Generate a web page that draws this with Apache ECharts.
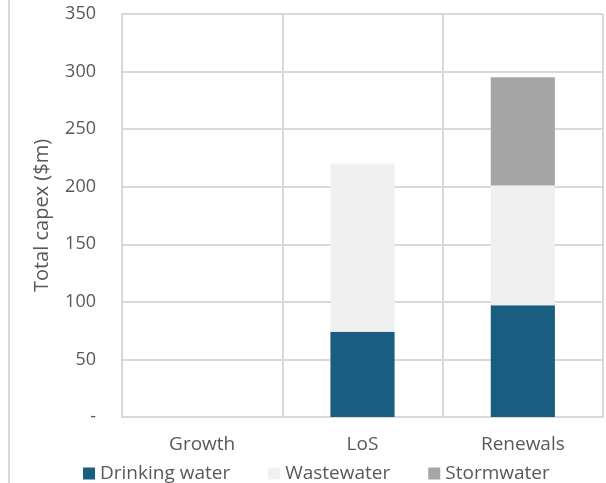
<!DOCTYPE html>
<html>
<head>
<meta charset="utf-8">
<script src="https://cdn.jsdelivr.net/npm/echarts@6/dist/echarts.min.js"></script>
<style>
  html, body { margin: 0; padding: 0; background: #fff; }
  #main { width: 606px; height: 483px; }
</style>
</head>
<body>
<div id="main"></div>
<script>
// categories + stacked values ($m)
var categories = ['Growth', 'LoS', 'Renewals'];
var drinkingWater = [0, 74, 97];
var wastewater = [0, 146, 104];
var stormwater = [0, 0, 94];
var seriesNames = ['Drinking water', 'Wastewater', 'Stormwater'];

var font = 'Open Sans';
var myChart = echarts.init(document.getElementById('main'));

var option = {
  animation: false,
  textStyle: { fontFamily: font },
  grid: { left: 122, right: 3, top: 14, bottom: 66 },
  legend: {
    top: 459,
    left: 78,
    itemWidth: 12,
    itemHeight: 12,
    itemGap: 38,
    icon: 'rect',
    textStyle: { color: '#595959', fontSize: 19, fontFamily: font },
    data: seriesNames
  },
  xAxis: {
    type: 'category',
    data: categories,
    axisLine: { lineStyle: { color: '#d9d9d9', width: 2 } },
    axisTick: { show: false },
    axisLabel: { color: '#595959', fontSize: 19, margin: 18 },
    splitLine: { show: true, interval: 0, lineStyle: { color: '#d9d9d9', width: 2 } }
  },
  yAxis: {
    type: 'value',
    min: 0,
    max: 350,
    interval: 50,
    name: 'Total capex ($m)',
    nameLocation: 'middle',
    nameGap: 70,
    nameTextStyle: { color: '#595959', fontSize: 20 },
    axisLine: { show: true, lineStyle: { color: '#d9d9d9', width: 2 } },
    axisTick: { show: false },
    axisLabel: {
      color: '#595959',
      fontSize: 18,
      margin: 26,
      formatter: function (v) { return v === 0 ? '-' : v; }
    },
    splitLine: { lineStyle: { color: '#d9d9d9', width: 2 } }
  },
  series: [
    { name: seriesNames[0], type: 'bar', stack: 'capex', data: drinkingWater, barWidth: '40%', itemStyle: { color: '#195e80' } },
    { name: seriesNames[1], type: 'bar', stack: 'capex', data: wastewater, barWidth: '40%', itemStyle: { color: '#f0f0f0' } },
    { name: seriesNames[2], type: 'bar', stack: 'capex', data: stormwater, barWidth: '40%', itemStyle: { color: '#a6a6a6' } }
  ],
  graphic: [
    { type: 'line', shape: { x1: 9, y1: 0, x2: 9, y2: 483 }, style: { stroke: '#d9d9d9', lineWidth: 2 } }
  ]
};
myChart.setOption(option);
</script>
</body>
</html>
